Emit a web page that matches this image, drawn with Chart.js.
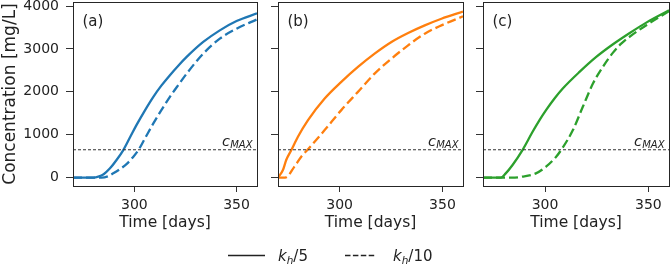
<!DOCTYPE html>
<html>
<head>
<meta charset="utf-8">
<script src="https://cdn.jsdelivr.net/npm/chart.js@4.4.1/dist/chart.umd.min.js"></script>
<style>
  html, body { margin: 0; padding: 0; background: #fff; }
  #wrap { position: relative; width: 672px; height: 264px; overflow: hidden; }
  canvas { position: absolute; top: 0; }
  #legend { position: absolute; left: 0; top: 236px; }
</style>
</head>
<body>
<div id="wrap">
  <canvas id="panelA" width="262" height="264" style="left:0px"></canvas>
  <canvas id="panelB" width="206" height="264" style="left:262px"></canvas>
  <canvas id="panelC" width="204" height="264" style="left:468px"></canvas>
  <svg id="legend" width="672" height="28" font-family="DejaVu Sans" fill="#222">
    <line x1="228" y1="19.5" x2="265" y2="19.5" stroke="#222" stroke-width="1.7"/>
    <text x="278" y="24.5" font-size="15"><tspan font-style="italic">k</tspan><tspan font-style="italic" font-size="10.5" dy="3">h</tspan><tspan dy="-3">/5</tspan></text>
    <line x1="345" y1="19.5" x2="376" y2="19.5" stroke="#222" stroke-width="1.7" stroke-dasharray="5.5 2.4"/>
    <text x="393" y="24.5" font-size="15"><tspan font-style="italic">k</tspan><tspan font-style="italic" font-size="10.5" dy="3">h</tspan><tspan dy="-3">/10</tspan></text>
  </svg>
</div>
<script>
// 軸の目盛りと範囲
const xTicks = [300, 350];
const yTicks = [0, 1000, 2000, 3000, 4000];
const xMin = 270, xMax = 360;
const yMin = -195, yMax = 4095;
const cMax = 650; // 上限濃度

// (a) 青
const daysA5 = [270, 280, 282.4, 285, 288.1, 291.3, 294.6, 297.9, 301.1, 305.2, 309.3, 313.3, 317.4, 321.5, 325.6, 333.7, 341.8, 350, 360];
const concA5 = [0, 0, 23, 80, 217, 410, 643, 940, 1230, 1570, 1884, 2150, 2388, 2610, 2814, 3163, 3434, 3651, 3830];
const daysA10 = [270, 284, 287, 289.7, 293, 296.3, 299.2, 302, 305.6, 309.3, 313.3, 317.4, 321.5, 325.6, 333.7, 341.8, 350, 360];
const concA10 = [0, 0, 30, 100, 200, 320, 470, 643, 950, 1264, 1580, 1884, 2160, 2426, 2891, 3240, 3473, 3690];

// (b) オレンジ
const daysB5 = [270, 272.4, 274, 276.5, 279.7, 284.6, 292.7, 300.8, 308.9, 317, 325.2, 333.3, 341.4, 349.5, 360];
const concB5 = [0, 178, 411, 643, 953, 1341, 1845, 2233, 2581, 2891, 3163, 3372, 3550, 3705, 3870];
const daysB10 = [270, 273.5, 278, 281.3, 284.6, 292.7, 300.8, 308.9, 317, 325.2, 333.3, 341.4, 349.5, 360];
const concB10 = [0, 0, 256, 488, 660, 1108, 1574, 2000, 2426, 2775, 3085, 3357, 3550, 3760];

// (c) 緑
const daysC5 = [270, 278.6, 281, 284.3, 289.1, 294, 297.2, 300.5, 304.5, 308.6, 316.7, 324.8, 332.9, 341, 349.2, 360];
const concC5 = [0, 0, 100, 295, 643, 1070, 1330, 1574, 1840, 2078, 2465, 2814, 3109, 3372, 3620, 3900];
const daysC10 = [270, 284, 289.1, 295.6, 300.5, 305.4, 307.8, 313.5, 318.3, 323.2, 328.1, 333, 337, 341.1, 349.2, 360];
const concC10 = [0, 0, 23, 100, 256, 488, 643, 1108, 1651, 2194, 2590, 2920, 3130, 3290, 3560, 3880];

Chart.defaults.font.family = "'DejaVu Sans'";
Chart.defaults.color = "#222";

const toXY = (days, vals) => days.map((d, i) => ({ x: d, y: vals[i] }));

const align = (p) => Math.round(p - 0.5) + 0.5;

// 枠・パネル記号・c_MAX ラベル
const panelDeco = {
    id: "panelDeco",
    afterDraw(chart, args, opts) {
        const { ctx, chartArea: a, scales } = chart;
        ctx.save();
        ctx.strokeStyle = "#262626";
        ctx.lineWidth = 1;
        const l = align(a.left), r = align(a.right), t = align(a.top), b = align(a.bottom);
        ctx.strokeRect(l, t, r - l, b - t);

        ctx.fillStyle = "#222";
        ctx.textBaseline = "alphabetic";
        ctx.textAlign = "left";
        ctx.font = "15px 'DejaVu Sans'";
        ctx.fillText(opts.tag, a.left + 9.5, a.top + 24);

        const yPix = scales.y.getPixelForValue(cMax);
        const xEnd = a.right - 4.5;
        ctx.font = "italic 10px 'DejaVu Sans'";
        const wSub = ctx.measureText("MAX").width;
        ctx.fillText("MAX", xEnd - wSub, yPix - 2);
        ctx.font = "italic 14.5px 'DejaVu Sans'";
        const wc = ctx.measureText("c").width;
        ctx.fillText("c", xEnd - wSub - wc - 0.3, yPix - 3.5);
        ctx.restore();
    },
};

const makePanel = (id, tag, color, solid, dashed, yWidth, padRight, showY) => {
    const ctx = document.getElementById(id).getContext("2d");
    return new Chart(ctx, {
        type: "line",
        data: {
            datasets: [
                {
                    data: [{ x: xMin, y: cMax }, { x: xMax, y: cMax }],
                    borderColor: "#333",
                    borderWidth: 1,
                    borderDash: [3, 2],
                    pointRadius: 0,
                },
                {
                    data: solid,
                    borderColor: color,
                    borderWidth: 2.3,
                    pointRadius: 0,
                    cubicInterpolationMode: "monotone",
                },
                {
                    data: dashed,
                    borderColor: color,
                    borderWidth: 2.3,
                    borderDash: [9, 4],
                    pointRadius: 0,
                    cubicInterpolationMode: "monotone",
                },
            ],
        },
        options: {
            responsive: false,
            animation: false,
            events: [],
            layout: { padding: { top: 2, right: padRight, bottom: 0, left: 0 } },
            plugins: {
                legend: { display: false },
                tooltip: { enabled: false },
                panelDeco: { tag },
            },
            scales: {
                x: {
                    type: "linear",
                    min: xMin,
                    max: xMax,
                    afterBuildTicks: (s) => { s.ticks = xTicks.map((v) => ({ value: v })); },
                    afterFit: (s) => { s.height = 78; s.paddingLeft = 0; s.paddingRight = 0; },
                    grid: { drawOnChartArea: false, drawTicks: true, tickLength: 6, color: "#333" },
                    border: { display: false },
                    ticks: { font: { size: 14 }, padding: 5, maxRotation: 0, callback: (v) => String(v) },
                    title: { display: true, text: "Time [days]", font: { size: 15.5 }, padding: { top: 0, bottom: 32 } },
                },
                y: {
                    type: "linear",
                    min: yMin,
                    max: yMax,
                    afterBuildTicks: (s) => { s.ticks = yTicks.map((v) => ({ value: v })); },
                    afterFit: (s) => { s.width = yWidth; s.paddingTop = 0; s.paddingBottom = 0; },
                    grid: { drawOnChartArea: false, drawTicks: true, tickLength: 7, color: "#333" },
                    border: { display: false },
                    ticks: { display: showY, font: { size: 14 }, padding: 7, callback: (v) => String(v) },
                    title: { display: showY, text: "Concentration [mg/L]", font: { size: 17 }, padding: 0 },
                },
            },
        },
        plugins: [panelDeco],
    });
};

makePanel("panelA", "(a)", "#1f77b4", toXY(daysA5, concA5), toXY(daysA10, concA10), 73, 5, true);
makePanel("panelB", "(b)", "#ff7f0e", toXY(daysB5, concB5), toXY(daysB10, concB10), 16, 5, false);
makePanel("panelC", "(c)", "#2ca02c", toXY(daysC5, concC5), toXY(daysC10, concC10), 15, 3, false);
</script>
</body>
</html>
